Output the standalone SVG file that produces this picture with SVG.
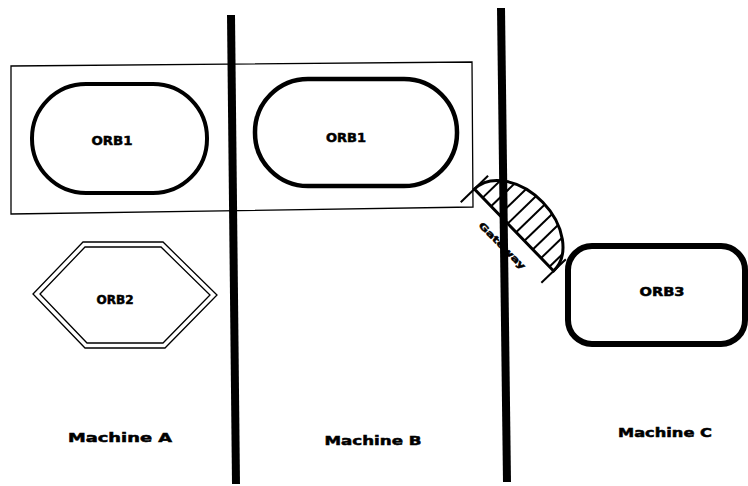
<svg xmlns="http://www.w3.org/2000/svg" width="748" height="486" viewBox="0 0 748 486">
  <style>
    .lbl { font-family: "DejaVu Sans", "Liberation Sans", Arial, sans-serif; font-weight: bold; fill: #000; stroke: #000; stroke-width: 0.5; text-anchor: middle; }
    .orb { fill: none; stroke: #000; }
    .thin { fill: none; stroke: #000; stroke-width: 1.3; }
    .wall { stroke: #000; stroke-width: 8; }
    .hatch { stroke: #000; stroke-width: 2; }
  </style>
  <rect width="748" height="486" fill="#fff"/>

  <!-- shared ORB1 boundary spanning machines A and B -->
  <polygon id="orb1-boundary" class="thin" points="11,66 472,62 473,207 11,214"/>

  <g id="orb1-a">
    <rect class="orb" stroke-width="4" x="32" y="84" width="175" height="109" rx="54"/>
    <text class="lbl" x="112" y="145" font-size="12" textLength="41" lengthAdjust="spacingAndGlyphs">ORB1</text>
  </g>

  <g id="orb1-b">
    <rect class="orb" stroke-width="4.5" x="255" y="79" width="202" height="107" rx="53"/>
    <text class="lbl" x="346" y="142" font-size="12" textLength="40" lengthAdjust="spacingAndGlyphs">ORB1</text>
  </g>

  <g id="orb2">
    <polygon class="thin" points="33,294 83,242 163,242 217,295 165,348 85,348"/>
    <polygon class="thin" points="40,294 85,247 161,247 210,295 163,343 87,343"/>
    <text class="lbl" x="115" y="304" font-size="11.5" textLength="37" lengthAdjust="spacingAndGlyphs">ORB2</text>
  </g>

  <g id="orb3">
    <rect class="orb" stroke-width="6" x="568" y="246" width="177" height="98" rx="24"/>
    <text class="lbl" x="662" y="296" font-size="11.5" textLength="45" lengthAdjust="spacingAndGlyphs">ORB3</text>
  </g>

  <!-- gateway: hatched half-ellipse straddling the B/C boundary -->
  <g id="gateway">
    <text class="lbl" font-size="9" transform="translate(500,248) rotate(45)" textLength="62" lengthAdjust="spacingAndGlyphs">Gateway</text>
    <g transform="translate(514,230) rotate(46)">
      <path class="orb" stroke-width="3" d="M -57 0 A 57 40 0 0 1 57 0 Z"/>
      <line class="hatch" x1="-45" y1="0" x2="-45" y2="-24.6"/>
      <line class="hatch" x1="-33" y1="0" x2="-33" y2="-32.6"/>
      <line class="hatch" x1="-21" y1="0" x2="-21" y2="-37.2"/>
      <line class="hatch" x1="-9" y1="0" x2="-9" y2="-39.5"/>
      <line class="hatch" x1="3" y1="0" x2="3" y2="-39.9"/>
      <line class="hatch" x1="15" y1="0" x2="15" y2="-38.6"/>
      <line class="hatch" x1="27" y1="0" x2="27" y2="-35.2"/>
      <line class="hatch" x1="39" y1="0" x2="39" y2="-29.2"/>
      <line class="hatch" x1="51" y1="0" x2="51" y2="-17.9"/>
      <line stroke="#000" stroke-width="2" x1="-57" y1="-19" x2="-57" y2="19"/>
      <line stroke="#000" stroke-width="2" x1="57" y1="-17" x2="57" y2="17"/>
    </g>
  </g>

  <!-- machine boundaries -->
  <g id="connectors">
    <line class="wall" x1="231" y1="15" x2="236" y2="484"/>
    <line class="wall" x1="501" y1="8" x2="507" y2="482"/>
  </g>

  <g id="machine-labels">
    <text class="lbl" x="120" y="442" font-size="12.5" textLength="104" lengthAdjust="spacingAndGlyphs">Machine A</text>
    <text class="lbl" x="373" y="445" font-size="12.5" textLength="97" lengthAdjust="spacingAndGlyphs">Machine B</text>
    <text class="lbl" x="665" y="437" font-size="12.5" textLength="94" lengthAdjust="spacingAndGlyphs">Machine C</text>
  </g>
</svg>
